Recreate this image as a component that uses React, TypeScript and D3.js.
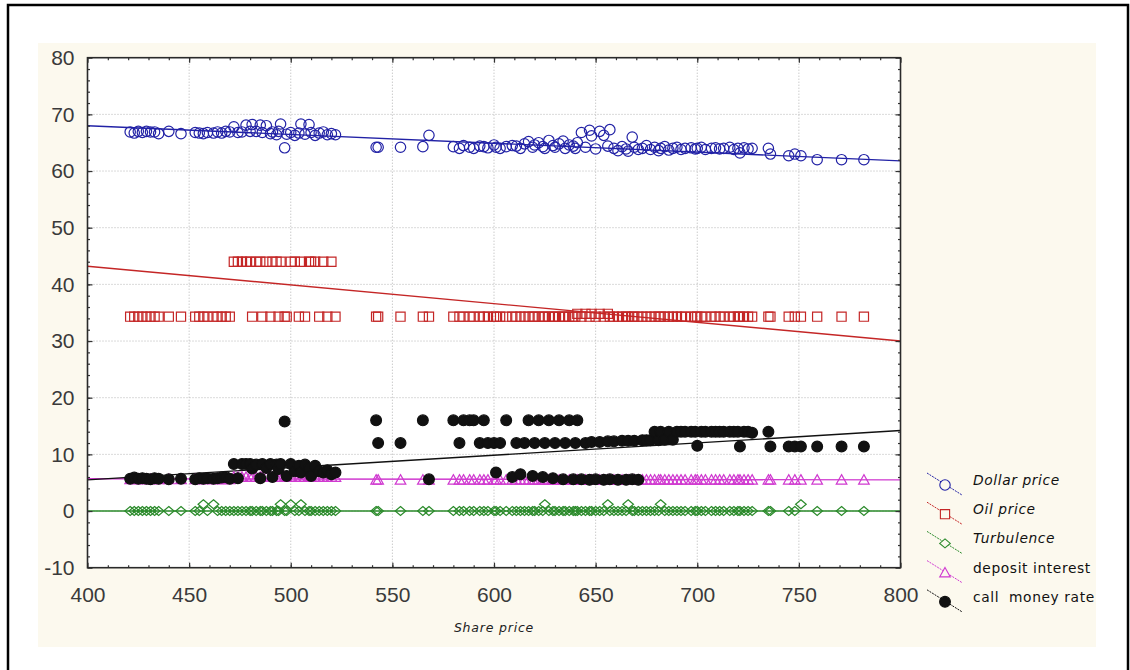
import React, { useEffect, useRef } from 'react';
import * as d3 from 'd3';

// one entry per observation, x = share price
const sharePrice = [
  421, 423, 425, 427, 429, 431, 433, 435, 440, 446, 453, 455, 457, 459, 462, 464, 466, 468, 470,
  472, 474, 476, 478, 480, 481, 483, 485, 486, 488, 490, 491, 493, 494, 495, 497, 498, 500, 502, 504,
  505, 507, 509, 510, 512, 514, 516, 518, 520, 522,
  542, 543, 554, 565, 568,
  580, 583, 585, 588, 590, 593, 595, 597, 600, 601, 603, 606, 609, 611, 613, 615, 617, 619, 620, 622,
  624, 625, 627, 629, 630, 632, 634, 635, 637, 639, 640, 641, 643, 645, 647, 648, 650, 652, 654, 656,
  657, 659, 661, 663, 665, 666, 668, 669, 671, 673,
  675, 677, 679, 681, 682, 684, 686, 688, 690, 692, 694, 697, 699, 700, 702, 704, 707, 709, 711, 713,
  716, 718, 720, 721, 723, 725, 727,
  735, 736, 745, 748, 751, 759, 771, 782,
];

const dollarPrice = [
  66.9, 66.7, 67.0, 66.8, 67.0, 66.9, 66.9, 66.6, 67.0, 66.6, 66.8, 66.7, 66.6, 66.8, 66.7, 66.9, 66.7, 67.0, 66.9,
  67.8, 66.8, 66.9, 68.1, 67.0, 68.2, 67.0, 68.1, 66.8, 68.0, 66.6, 66.9, 66.4, 67.0, 68.3, 64.1, 66.5, 66.8, 66.3, 66.7,
  68.3, 66.5, 68.2, 66.8, 66.3, 66.7, 66.9, 66.4, 66.6, 66.4,
  64.2, 64.2, 64.2, 64.3, 66.3,
  64.3, 64.0, 64.5, 64.2, 64.0, 64.4, 64.3, 64.1, 64.6, 64.2, 64.0, 64.3, 64.5, 64.4, 64.0, 64.8, 65.2, 64.2, 64.6, 65.0,
  64.3, 64.0, 65.4, 64.5, 64.2, 64.8, 65.3, 64.0, 64.6, 64.4, 64.0, 65.0, 66.8, 64.2, 67.2, 66.2, 63.9, 67.0, 66.3, 64.4,
  67.3, 64.0, 63.6, 64.3, 63.9, 63.5, 66.0, 64.2, 63.8, 64.0,
  64.5, 63.8, 64.2, 63.6, 64.0, 64.3, 63.7, 64.0, 64.2, 63.8, 64.0, 64.1, 63.9, 64.0, 64.2, 63.8, 64.0, 64.1, 63.9, 64.0,
  64.2, 63.8, 64.0, 63.2, 64.1, 63.9, 64.0,
  64.0, 63.0, 62.7, 63.0, 62.7, 62.0, 62.0, 62.0,
];

const oilPrice = [
  34.3, 34.3, 34.3, 34.3, 34.3, 34.3, 34.3, 34.3, 34.3, 34.3, 34.3, 34.3, 34.3, 34.3, 34.3, 34.3, 34.3, 34.3, 34.3,
  44, 44, 44, 44, 44, 34.3, 44, 44, 34.3, 44, 34.3, 44, 44, 34.3, 44, 34.3, 34.3, 44, 44, 34.3,
  44, 34.3, 44, 44, 44, 34.3, 44, 34.3, 44, 34.3,
  34.3, 34.3, 34.3, 34.3, 34.3,
  34.3, 34.3, 34.3, 34.3, 34.3, 34.3, 34.3, 34.3, 34.3, 34.3, 34.3, 34.3, 34.3, 34.3, 34.3, 34.3, 34.3, 34.3, 34.3, 34.3,
  34.3, 34.3, 34.3, 34.3, 34.3, 34.3, 34.3, 34.3, 34.3, 34.3, 34.3, 34.8, 34.3, 34.8, 34.3, 34.8, 34.3, 34.8, 34.3, 34.8,
  34.3, 34.3, 34.3, 34.3, 34.3, 34.3, 34.3, 34.3, 34.3, 34.3,
  34.3, 34.3, 34.3, 34.3, 34.3, 34.3, 34.3, 34.3, 34.3, 34.3, 34.3, 34.3, 34.3, 34.3, 34.3, 34.3, 34.3, 34.3, 34.3, 34.3,
  34.3, 34.3, 34.3, 34.3, 34.3, 34.3, 34.3,
  34.3, 34.3, 34.3, 34.3, 34.3, 34.3, 34.3, 34.3,
];

const turbulence = [
  0, 0, 0, 0, 0, 0, 0, 0, 0, 0, 0, 0, 1.2, 0, 1.2, 0, 0, 0, 0,
  0, 0, 0, 0, 0, 0, 0, 0, 0, 0, 0, 0, 0, 0, 1.2, 0, 0, 1.2, 0, 0,
  1.2, 0, 0, 0, 0, 0, 0, 0, 0, 0,
  0, 0, 0, 0, 0,
  0, 0, 0, 0, 0, 0, 0, 0, 0, 0, 0, 0, 0, 0, 0, 0, 0, 0, 0, 0,
  0, 1.2, 0, 0, 0, 0, 0, 0, 0, 0, 0, 0, 0, 0, 0, 0, 0, 0, 0, 1.2,
  0, 0, 0, 0, 0, 1.2, 0, 0, 0, 0,
  0, 0, 0, 0, 1.2, 0, 0, 0, 0, 0, 0, 0, 0, 0, 0, 0, 0, 0, 0, 0,
  0, 0, 0, 0, 0, 0, 0,
  0, 0, 0, 0, 1.2, 0, 0, 0,
];

const depositInterest = [
  5.6, 5.6, 5.6, 5.6, 5.6, 5.6, 5.6, 5.6, 5.6, 5.6, 5.6, 5.6, 5.6, 5.6, 5.6, 5.6, 5.6, 5.6, 5.6,
  6.0, 6.0, 6.0, 6.0, 6.0, 6.0, 6.0, 6.0, 6.0, 6.0, 6.0, 6.0, 6.0, 6.0, 6.0, 6.0, 6.0, 6.0, 6.0, 6.0,
  6.0, 6.0, 6.0, 6.0, 6.0, 6.0, 6.0, 6.0, 6.0, 6.0,
  5.5, 5.5, 5.5, 5.5, 5.5,
  5.5, 5.5, 5.5, 5.5, 5.5, 5.5, 5.5, 5.5, 5.5, 5.5, 5.5, 5.5, 5.5, 5.5, 5.5, 5.5, 5.5, 5.5, 5.5, 5.5,
  5.5, 5.5, 5.5, 5.5, 5.5, 5.5, 5.5, 5.5, 5.5, 5.5, 5.5, 5.5, 5.5, 5.5, 5.5, 5.5, 5.5, 5.5, 5.5, 5.5,
  5.5, 5.5, 5.5, 5.5, 5.5, 5.5, 5.5, 5.5, 5.5, 5.5,
  5.5, 5.5, 5.5, 5.5, 5.5, 5.5, 5.5, 5.5, 5.5, 5.5, 5.5, 5.5, 5.5, 5.5, 5.5, 5.5, 5.5, 5.5, 5.5, 5.5,
  5.5, 5.5, 5.5, 5.5, 5.5, 5.5, 5.5,
  5.5, 5.5, 5.5, 5.5, 5.5, 5.5, 5.5, 5.5,
];

const callMoneyRate = [
  5.7, 5.9, 5.7, 5.8, 5.7, 5.6, 5.8, 5.7, 5.6, 5.7, 5.6, 5.8, 5.7, 5.8, 5.7, 5.8, 5.9, 6.0, 5.7,
  8.3, 5.8, 8.3, 8.3, 8.3, 7.5, 8.2, 5.8, 8.3, 7.6, 8.3, 6.0, 8.2, 7.4, 8.3, 15.8, 6.2, 8.3, 7.0, 8.0,
  6.8, 8.2, 7.5, 6.2, 8.0, 7.0, 6.8, 7.2, 6.5, 6.8,
  16, 12, 12, 16, 5.6,
  16, 12, 16, 16, 16, 12, 16, 12, 12, 6.8, 12, 16, 6.0, 12, 6.5, 12, 16, 6.2, 12, 16,
  6.0, 12, 16, 5.8, 12, 16, 5.6, 12, 16, 5.6, 12, 16, 5.6, 12, 5.5, 12.2, 5.6, 12.2, 5.5, 12.3,
  5.6, 12.3, 5.5, 12.4, 5.5, 12.4, 5.6, 12.4, 5.5, 12.5,
  12.5, 12.5, 14, 12.5, 14, 12.6, 14, 12.6, 14, 14, 14, 14, 14, 11.5, 14, 14, 14, 14, 14, 14,
  14, 14, 14, 11.4, 14, 14, 13.8,
  14, 11.4, 11.4, 11.4, 11.4, 11.4, 11.4, 11.4,
];

// fitted lines, value at share price 400 and at 800
const fitStart = [68.0, 43.2, 0, 5.7, 5.5];
const fitEnd = [61.8, 30.0, 0, 5.5, 14.2];

const seriesNames = ['Dollar price', 'Oil price', 'Turbulence', 'deposit interest', 'call  money rate'];
const xTicks = [400, 450, 500, 550, 600, 650, 700, 750, 800];
const yTicks = [-10, 0, 10, 20, 30, 40, 50, 60, 70, 80];

const seriesStyle = [
  { color: '#2222a6', marker: 'M5.2,0A5.2,5.2,0,1,1,-5.2,0A5.2,5.2,0,1,1,5.2,0Z', fill: 'none', italic: true },
  { color: '#c42626', marker: 'M-4.6,-4.6H4.6V4.6H-4.6Z', fill: 'none', italic: true },
  { color: '#2a8a2a', marker: 'M0,-4.5L5.3,0L0,4.5L-5.3,0Z', fill: 'none', italic: true },
  { color: '#d03ad0', marker: 'M0,-5.2L5.3,4.3L-5.3,4.3Z', fill: 'none', italic: false },
  { color: '#111111', marker: 'M5.4,0A5.4,5.4,0,1,1,-5.4,0A5.4,5.4,0,1,1,5.4,0Z', fill: '#111111', italic: false },
];

const App = () => {
  const ref = useRef<SVGSVGElement>(null);

  useEffect(() => {
    const svg = d3.select(ref.current);
    svg.selectAll('*').remove();

    const left = 87.5, right = 900.5, top = 57.7, bottom = 567.7;
    const x = d3.scaleLinear().domain([400, 800]).range([left, right]);
    const y = d3.scaleLinear().domain([-10, 80]).range([bottom, top]);

    // backgrounds
    svg.append('rect').attr('x', 38).attr('y', 43).attr('width', 1058).attr('height', 604).attr('fill', '#fcf9ee');
    svg.append('rect').attr('x', left).attr('y', top).attr('width', right - left).attr('height', bottom - top)
      .attr('fill', '#ffffff');

    // grid
    const grid = svg.append('g').attr('stroke', '#b4b4b4').attr('stroke-dasharray', '1,2').attr('stroke-width', 1);
    grid.selectAll('.gx').data(xTicks.slice(1, -1)).enter().append('line')
      .attr('x1', d => x(d)).attr('x2', d => x(d)).attr('y1', top).attr('y2', bottom);
    grid.selectAll('.gy').data(yTicks.slice(1, -1)).enter().append('line')
      .attr('y1', d => y(d)).attr('y2', d => y(d)).attr('x1', left).attr('x2', right);

    const allValues = [dollarPrice, oilPrice, turbulence, depositInterest, callMoneyRate];

    // fit lines
    allValues.forEach((_, i) => {
      svg.append('line')
        .attr('x1', x(400)).attr('y1', y(fitStart[i]))
        .attr('x2', x(800)).attr('y2', y(fitEnd[i]))
        .attr('stroke', seriesStyle[i].color).attr('stroke-width', 1.4);
    });

    // points
    allValues.forEach((values, i) => {
      const n = Math.min(values.length, sharePrice.length);
      const pts = d3.range(n).map(j => [sharePrice[j], values[j]]);
      svg.append('g').selectAll('path').data(pts).enter().append('path')
        .attr('d', seriesStyle[i].marker)
        .attr('transform', d => `translate(${x(d[0])},${y(d[1])})`)
        .attr('fill', seriesStyle[i].fill)
        .attr('stroke', seriesStyle[i].color)
        .attr('stroke-width', 1.2);
    });

    // axes
    const font = "'Liberation Sans', Arial, sans-serif";
    const styleAxis = (g: any) => {
      g.select('.domain').remove();
      g.selectAll('line').attr('stroke', '#333').attr('stroke-width', 1.2);
      g.selectAll('text').attr('font-family', font).attr('font-size', 21).attr('fill', '#3a3a3a');
    };
    const minorX = d3.range(410, 800, 10);
    const minorY = d3.range(-8, 80, 2);
    const plain = (d: any) => String(d);

    svg.append('g').attr('transform', `translate(${left},0)`)
      .call(d3.axisLeft(y).tickValues(yTicks).tickSize(-5).tickPadding(13).tickFormat(plain)).call(styleAxis);
    svg.append('g').attr('transform', `translate(${left},0)`)
      .call(d3.axisLeft(y).tickValues(minorY).tickSize(-2.5).tickFormat(() => '')).call(styleAxis);
    svg.append('g').attr('transform', `translate(${right},0)`)
      .call(d3.axisRight(y).tickValues(yTicks).tickSize(-5).tickFormat(() => '')).call(styleAxis);
    svg.append('g').attr('transform', `translate(${right},0)`)
      .call(d3.axisRight(y).tickValues(minorY).tickSize(-2.5).tickFormat(() => '')).call(styleAxis);
    svg.append('g').attr('transform', `translate(0,${bottom})`)
      .call(d3.axisBottom(x).tickValues(xTicks).tickSize(-5).tickPadding(19).tickFormat(plain)).call(styleAxis);
    svg.append('g').attr('transform', `translate(0,${bottom})`)
      .call(d3.axisBottom(x).tickValues(minorX).tickSize(-2.5).tickFormat(() => '')).call(styleAxis);
    svg.append('g').attr('transform', `translate(0,${top})`)
      .call(d3.axisTop(x).tickValues(xTicks).tickSize(-5).tickFormat(() => '')).call(styleAxis);
    svg.append('g').attr('transform', `translate(0,${top})`)
      .call(d3.axisTop(x).tickValues(minorX).tickSize(-2.5).tickFormat(() => '')).call(styleAxis);

    svg.append('rect').attr('x', left).attr('y', top).attr('width', right - left).attr('height', bottom - top)
      .attr('fill', 'none').attr('stroke', '#2a2a2a').attr('stroke-width', 1.6);

    // x title
    svg.append('text').attr('x', (left + right) / 2).attr('y', 632)
      .attr('text-anchor', 'middle').attr('font-family', "'DejaVu Sans', sans-serif")
      .attr('font-size', 12.5).attr('font-style', 'italic').attr('letter-spacing', 0.8).attr('fill', '#222')
      .text('Share price');

    // legend
    const legend = svg.append('g');
    seriesNames.forEach((name, i) => {
      const cy = 480 + i * 29.2;
      const s = seriesStyle[i];
      legend.append('line').attr('x1', 927).attr('y1', cy - 7).attr('x2', 962).attr('y2', cy + 15)
        .attr('stroke', s.color).attr('stroke-width', 1).attr('stroke-dasharray', '2,1');
      legend.append('path').attr('d', s.marker).attr('transform', `translate(945,${cy + 5})`)
        .attr('fill', s.fill === 'none' ? '#fcf9ee' : s.fill).attr('stroke', s.color).attr('stroke-width', 1.1);
      legend.append('text').attr('x', 973).attr('y', cy + 5)
        .attr('font-family', "'DejaVu Sans', sans-serif").attr('font-size', 13.8)
        .attr('letter-spacing', 0.6).attr('font-style', s.italic ? 'italic' : 'normal')
        .attr('fill', '#111').style('white-space', 'pre')
        .text(name);
    });

    // outer frame
    svg.append('rect').attr('x', 8).attr('y', 5).attr('width', 1120).attr('height', 700)
      .attr('fill', 'none').attr('stroke', '#000').attr('stroke-width', 2.5);
  }, []);

  return (
    <svg ref={ref} width={1130} height={670}
      style={{ position: 'absolute', left: 0, top: 0, background: '#fff' }} />
  );
};

export default App;
